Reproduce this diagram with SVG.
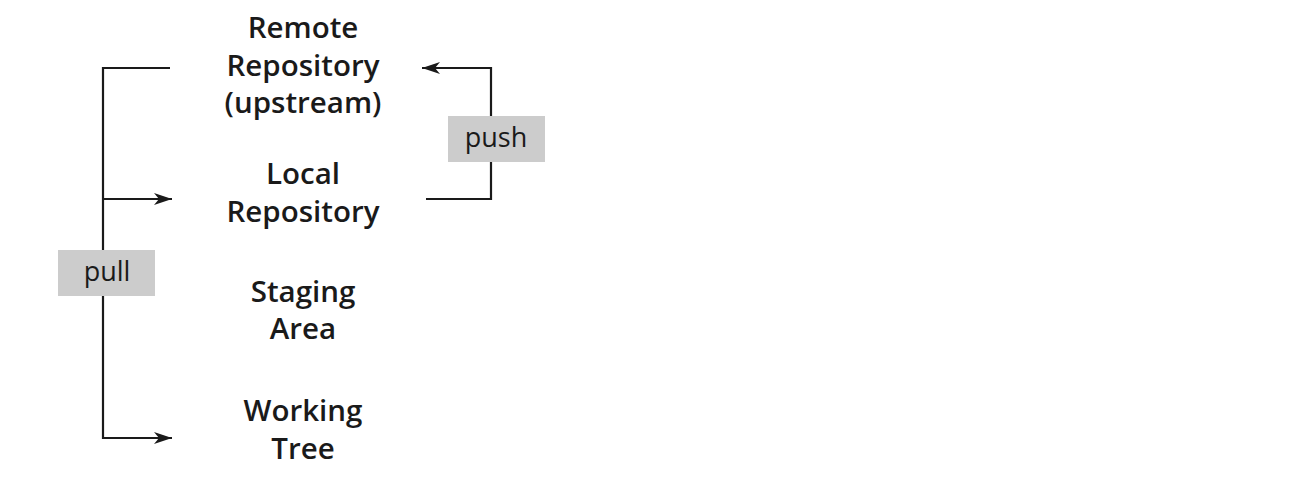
<svg xmlns="http://www.w3.org/2000/svg" width="1302" height="478" viewBox="0 0 1302 478">
<style>
.n{font-family:"Open Sans","Liberation Sans",Arial,sans-serif;font-weight:600;font-size:29.5px;fill:#1a1a1a;text-anchor:middle}
.lb{font-family:"Open Sans","Liberation Sans",Arial,sans-serif;font-size:27px;fill:#1a1a1a;text-anchor:middle}
.c{fill:none;stroke:#1a1a1a;stroke-width:2.2}
.box{fill:#cccccc}
</style>
<defs>
<marker id="ah" markerWidth="20" markerHeight="12" refX="18" refY="6" orient="auto" markerUnits="userSpaceOnUse">
<path d="M0,0 L18,6 L0,12 L5,6 Z" fill="#1a1a1a"/>
</marker>
</defs>
<rect width="1302" height="478" fill="#ffffff"/>
<g id="connectors">
<path class="c" d="M170,68 H103 V438 H172" marker-end="url(#ah)"/>
<path class="c" d="M103,199 H172" marker-end="url(#ah)"/>
<path class="c" d="M426,199 H491 V68 H422" marker-end="url(#ah)"/>
</g>
<g id="pull-label">
<rect class="box" x="58" y="250" width="97" height="46"/>
<text class="lb" x="107" y="281">pull</text>
</g>
<g id="push-label">
<rect class="box" x="448" y="116" width="97" height="46"/>
<text class="lb" x="496" y="147">push</text>
</g>
<g id="remote">
<text class="n" x="303" y="38">Remote</text>
<text class="n" x="303" y="76">Repository</text>
<text class="n" x="303" y="113">(upstream)</text>
</g>
<g id="local">
<text class="n" x="303" y="184">Local</text>
<text class="n" x="303" y="222">Repository</text>
</g>
<g id="staging">
<text class="n" x="303" y="302">Staging</text>
<text class="n" x="303" y="339">Area</text>
</g>
<g id="working">
<text class="n" x="303" y="421">Working</text>
<text class="n" x="303" y="459">Tree</text>
</g>
</svg>
